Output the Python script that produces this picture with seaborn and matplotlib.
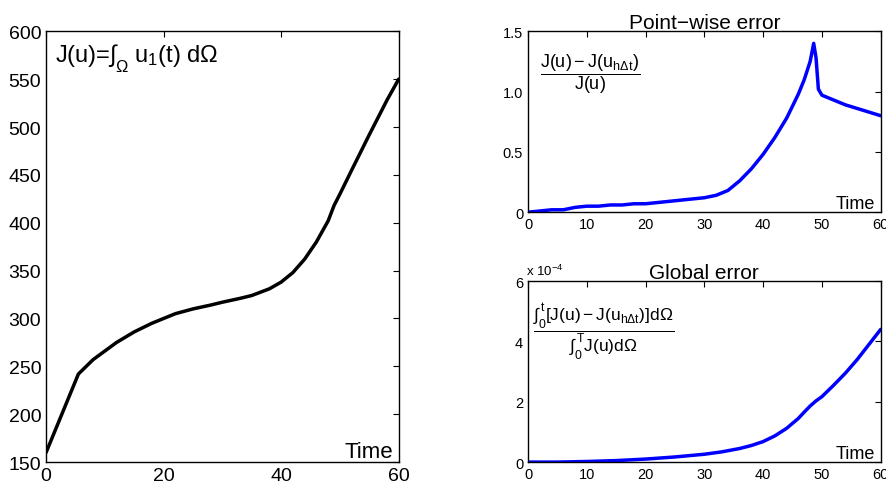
import numpy as np
import pandas as pd
import matplotlib.pyplot as plt
import seaborn as sns

# J(u) over time (left panel)
t_j = [0, 5.5, 7, 8, 10, 12, 15, 18, 20, 22, 25, 28, 30, 33, 35, 38, 40, 42, 44, 46, 48, 49, 50, 52, 55, 58, 60]
j_val = [160, 242, 251, 257, 266, 275, 286, 295, 300, 305, 310, 314, 317, 321, 324, 331, 338, 348, 362, 380, 402, 418, 430, 455, 492, 528, 550]

# point-wise relative error
t_pw = [0, 2, 4, 6, 8, 10, 12, 14, 16, 18, 20, 22, 24, 26, 28, 30, 32, 34, 36, 38, 40, 42, 44, 45, 46, 47, 48, 48.6, 49.0, 49.4, 50, 52, 54, 56, 58, 60]
pw_err = [0.0, 0.01, 0.02, 0.02, 0.04, 0.05, 0.05, 0.06, 0.06, 0.07, 0.07, 0.08, 0.09, 0.10, 0.11, 0.12, 0.14, 0.18, 0.26, 0.36, 0.48, 0.62, 0.78, 0.88, 0.98, 1.10, 1.25, 1.40, 1.28, 1.02, 0.97, 0.93, 0.89, 0.86, 0.83, 0.80]

# global error (in units of 1e-4)
t_gl = [0, 5, 10, 15, 20, 25, 30, 33, 36, 38, 40, 42, 44, 46, 47, 48, 49, 50, 52, 54, 56, 58, 60]
gl_err = [0.0, 0.0, 0.02, 0.05, 0.1, 0.17, 0.26, 0.34, 0.45, 0.55, 0.68, 0.87, 1.12, 1.45, 1.66, 1.86, 2.03, 2.17, 2.55, 2.95, 3.4, 3.9, 4.4]

sns.set_style("white")
plt.rcParams['font.family'] = ['Liberation Sans', 'DejaVu Sans']
plt.rcParams['mathtext.fontset'] = 'custom'
plt.rcParams['mathtext.rm'] = 'Liberation Sans'
plt.rcParams['mathtext.it'] = 'Liberation Sans'
plt.rcParams['mathtext.default'] = 'regular'
for k in ['text.color', 'axes.labelcolor', 'xtick.color', 'ytick.color']:
    plt.rcParams[k] = 'black'

fig = plt.figure(figsize=(8.86, 4.89), dpi=100)
ax1 = fig.add_axes([0.052, 0.053, 0.398, 0.881])
ax2 = fig.add_axes([0.596, 0.564, 0.398, 0.370])
ax3 = fig.add_axes([0.596, 0.053, 0.398, 0.370])

df_j = pd.DataFrame({'t': t_j, 'J': j_val})
df_pw = pd.DataFrame({'t': t_pw, 'err': pw_err})
df_gl = pd.DataFrame({'t': t_gl, 'err': gl_err})

sns.lineplot(data=df_j, x='t', y='J', color='black', linewidth=2.5, ax=ax1)
sns.lineplot(data=df_pw, x='t', y='err', color='#0000ff', linewidth=2.5, ax=ax2)
sns.lineplot(data=df_gl, x='t', y='err', color='#0000ff', linewidth=2.5, ax=ax3)

def matlab_axes(ax, fs):
    for s in ax.spines.values():
        s.set_color('black')
        s.set_linewidth(1.0)
    ax.tick_params(direction='in', top=True, right=True, length=4, width=0.8,
                   labelsize=fs, colors='black')
    ax.set_xlabel('')
    ax.set_ylabel('')

ax1.set_xlim(0, 60)
ax1.set_ylim(150, 600)
ax1.set_xticks([0, 20, 40, 60])
ax1.set_yticks(np.arange(150, 601, 50))
matlab_axes(ax1, 14)
ax1.text(0.025, 0.975, r'J(u)=$\int_{\Omega}$ u$_{1}$(t) d$\Omega$', transform=ax1.transAxes,
         fontsize=17, va='top', ha='left')
ax1.text(0.985, 0.0, 'Time', transform=ax1.transAxes, fontsize=16, ha='right', va='bottom')

ax2.set_xlim(0, 60)
ax2.set_ylim(0, 1.5)
ax2.set_xticks(np.arange(0, 61, 10))
ax2.set_yticks([0, 0.5, 1.0, 1.5])
ax2.set_yticklabels(['0', '0.5', '1.0', '1.5'])
matlab_axes(ax2, 10.5)
ax2.set_title('Point\u2212wise error', fontsize=15, pad=2)
ax2.text(0.035, 0.77, r'$\dfrac{J(u)-J(u_{h\Delta t})}{J(u)}$', transform=ax2.transAxes,
         fontsize=13, ha='left', va='center')
ax2.text(0.985, 0.0, 'Time', transform=ax2.transAxes, fontsize=13, ha='right', va='bottom')

ax3.set_xlim(0, 60)
ax3.set_ylim(0, 6)
ax3.set_xticks(np.arange(0, 61, 10))
ax3.set_yticks([0, 2, 4, 6])
matlab_axes(ax3, 10.5)
ax3.set_title('Global error', fontsize=15, pad=2)
ax3.text(-0.005, 1.02, r'x 10$^{-4}$', transform=ax3.transAxes, fontsize=9.5, ha='left', va='bottom')
ax3.text(0.015, 0.72, r'$\dfrac{\int_0^t[J(u)-J(u_{h\Delta t})]d\Omega}{\int_0^T J(u)d\Omega}$',
         transform=ax3.transAxes, fontsize=12.5, ha='left', va='center')
ax3.text(0.985, 0.0, 'Time', transform=ax3.transAxes, fontsize=13, ha='right', va='bottom')

fig.savefig('out.png', dpi=100)
